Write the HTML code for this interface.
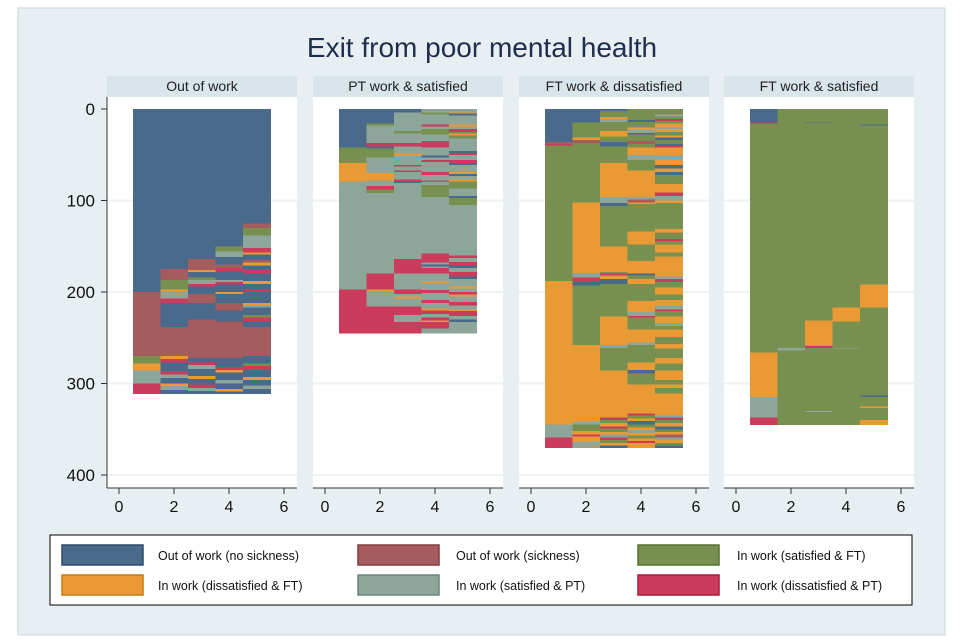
<!DOCTYPE html>
<html><head><meta charset="utf-8"><style>
body{margin:0;background:#fff;font-family:"Liberation Sans",sans-serif}
svg{display:block}
</style></head><body>
<svg id="chart" width="960" height="640">
<rect x="18" y="8" width="927" height="627" fill="#e8eff2" stroke="#c9d3d8"/>
<text x="482" y="57" text-anchor="middle" font-size="28" fill="#1f2d4e">Exit from poor mental health</text>
<g id="panels" shape-rendering="crispEdges"></g>
<g id="legend"></g>
</svg>
<script>
const panelTitles = ["Out of work","PT work & satisfied","FT work & dissatisfied","FT work & satisfied"];
const stateColors = ["#4a6a8b","#a45c5f","#78904f","#e99a35","#8ca69a","#cc3a5c"];
const stateBorders = ["#2e4a6b","#843c3f","#587030","#c97a15","#6c867a","#ac1a3c"];
const stateLabels = ["Out of work (no sickness)","Out of work (sickness)","In work (satisfied & FT)","In work (dissatisfied & FT)","In work (satisfied & PT)","In work (dissatisfied & PT)"];
const yTicks = [0,100,200,300,400];
const xTicks = [0,2,4,6];
// runs: [state(1-6), count] per time column 1..5
const panel1Runs = [
 [[1,200],[2,70],[3,8],[4,8],[5,14],[6,11]],
 [[1,175],[2,12],[3,10],[4,2],[5,8],[6,5],[1,26],[2,32],[4,3],[6,4],[1,10],[6,3],[5,4],[1,6],[4,3],[5,4],[1,4]],
 [[1,164],[2,12],[4,2],[1,6],[3,3],[5,4],[6,3],[1,8],[2,10],[1,18],[2,42],[1,5],[6,3],[5,4],[1,8],[4,3],[1,6],[6,4],[5,3],[1,3]],
 [[1,150],[3,6],[5,6],[1,8],[2,4],[6,3],[1,10],[5,2],[6,3],[1,8],[4,2],[1,10],[2,8],[1,12],[2,40],[1,10],[6,3],[4,3],[1,8],[5,4],[1,6],[4,3],[1,2]],
 [[1,125],[2,5],[3,8],[5,14],[6,5],[4,2],[1,6],[2,3],[4,3],[1,5],[6,4],[1,8],[4,3],[1,6],[6,3],[1,12],[4,2],[5,3],[1,8],[3,3],[6,4],[1,6],[2,32],[1,8],[3,3],[6,4],[1,8],[4,3],[1,6],[5,4],[1,5]]
];
const panel2Runs = [
 [[1,42],[3,17],[4,20],[5,118],[6,48]],
 [[1,16],[3,2],[5,19],[6,4],[1,2],[3,10],[5,17],[4,8],[5,6],[6,4],[3,4],[5,88],[6,17],[4,2],[5,17],[6,9],[5,0],[6,20]],
 [[1,4],[5,20],[3,3],[5,10],[6,4],[5,8],[4,2],[5,10],[6,2],[5,4],[6,2],[5,8],[6,2],[1,2],[5,83],[6,16],[5,17],[6,5],[5,3],[4,2],[5,9],[6,9],[5,8],[6,12]],
 [[5,4],[3,2],[5,11],[6,2],[5,3],[3,6],[5,7],[6,7],[5,9],[1,2],[5,3],[6,2],[5,11],[6,3],[5,6],[2,2],[5,3],[3,13],[5,62],[6,10],[5,2],[1,2],[5,2],[6,6],[5,8],[4,2],[5,8],[6,3],[5,8],[6,3],[5,6],[4,2],[6,4],[5,4],[6,3],[4,2],[6,7],[5,5]],
 [[5,4],[4,1],[1,2],[5,10],[4,2],[5,3],[6,3],[3,2],[4,2],[3,3],[5,14],[1,2],[6,2],[5,6],[6,3],[1,2],[5,8],[4,2],[1,2],[5,4],[4,2],[3,8],[5,8],[1,2],[3,8],[5,55],[6,3],[5,4],[6,4],[1,3],[5,4],[6,5],[1,3],[5,8],[4,2],[5,4],[6,3],[4,2],[5,6],[6,4],[5,4],[4,2],[6,5],[5,4],[1,3],[5,12]]
];
const panel3Runs = [
 [[1,36],[2,2],[6,2],[3,148],[4,157],[5,14],[6,11]],
 [[1,15],[3,16],[4,3],[2,3],[3,65],[4,77],[5,5],[6,5],[1,4],[3,65],[4,84],[5,3],[3,7],[4,4],[6,2],[4,6],[5,6]],
 [[1,2],[3,7],[4,2],[5,3],[3,10],[4,6],[3,6],[1,5],[3,18],[4,37],[5,7],[1,3],[3,44],[4,28],[3,2],[6,2],[4,4],[1,5],[3,36],[4,31],[5,3],[3,25],[4,51],[6,3],[3,3],[4,4],[6,2],[3,4],[4,3],[5,3],[6,3],[3,3],[4,3],[1,2]],
 [[3,12],[1,2],[3,6],[4,3],[5,3],[1,2],[3,7],[2,3],[3,4],[4,8],[5,6],[3,11],[4,29],[5,3],[2,3],[4,2],[3,30],[4,14],[3,18],[4,14],[1,2],[3,4],[4,5],[3,19],[4,12],[5,4],[6,2],[3,13],[4,14],[5,3],[3,19],[4,8],[1,4],[3,12],[4,32],[6,2],[3,3],[4,3],[1,4],[3,3],[4,3],[5,3],[4,3],[3,3],[4,3],[6,2],[4,5]],
 [[3,6],[5,2],[3,3],[6,2],[3,3],[4,4],[5,2],[4,3],[3,4],[4,2],[1,3],[3,4],[1,2],[6,2],[4,8],[5,5],[4,6],[1,4],[4,4],[1,3],[3,10],[4,9],[6,4],[5,5],[4,3],[3,28],[4,4],[3,7],[6,2],[3,4],[4,9],[3,4],[4,22],[5,3],[6,3],[3,6],[4,8],[3,6],[4,6],[5,4],[6,2],[3,6],[4,7],[5,3],[3,4],[4,8],[3,8],[4,5],[3,10],[4,6],[3,8],[4,10],[3,5],[4,4],[3,6],[4,24],[5,2],[6,3],[3,3],[4,4],[1,3],[3,3],[4,3],[2,3],[5,3],[4,3],[3,3],[1,2]]
];
const panel4Runs = [
 [[1,15],[6,1],[3,250],[4,49],[5,22],[6,8]],
 [[3,261],[5,3],[3,81]],
 [[3,14],[1,1],[3,216],[4,27],[5,1],[6,2],[3,69],[5,1],[3,14]],
 [[3,217],[4,15],[3,29],[5,1],[3,83]],
 [[3,17],[1,1],[3,174],[4,25],[3,96],[1,2],[3,10],[4,2],[3,13],[4,5]]
];
const allRuns = [panel1Runs,panel2Runs,panel3Runs,panel4Runs];

const NS = "http://www.w3.org/2000/svg";
const panelLefts = [107,313,519,724];
const panelW = 190, plotTop = 97, plotBottom = 488;
function yScale(v){ return 109 + v*0.915; }
function xScale(p,v){ return panelLefts[p] + 12 + v*27.5; }
function mk(tag, attrs, parent){ const e=document.createElementNS(NS,tag); for(const k in attrs) e.setAttribute(k,attrs[k]); parent.appendChild(e); return e; }
const panelsG = document.getElementById('panels');
allRuns.forEach((runs,p)=>{
  const g = mk('g',{},panelsG);
  
  
  const L = panelLefts[p];
  const bg = mk('rect',{x:L,y:plotTop,width:panelW,height:plotBottom-plotTop,fill:'#fff'},g);
  
  
  const hd = mk('rect',{x:L,y:76,width:panelW,height:21,fill:'#d9e5ea'},g);
  
  
  const ht = mk('text',{x:L+panelW/2,y:91,'text-anchor':'middle','font-size':14,fill:'#222'},g);
  ht.textContent = panelTitles[p];
  
  
  yTicks.forEach(t=>{ if(t>0){ const gl=mk('line',{x1:L,x2:L+panelW,y1:yScale(t),y2:yScale(t),stroke:'#edf2f4','stroke-width':2},g);
    
     }});
  runs.forEach((col,c)=>{
    let start=0;
    col.forEach(r=>{
      const y0=yScale(start), y1=yScale(start+r[1]);
      if(r[1]>0){
        const rc = mk('rect',{x:xScale(p,c+0.5),y:y0,width:xScale(p,c+1.5)-xScale(p,c+0.5)+0.5,height:y1-y0+0.3,fill:stateColors[r[0]-1]},g);
        
        
      }
      start+=r[1];
    });
  });
  const xa = mk('line',{x1:L,x2:L+panelW,y1:plotBottom,y2:plotBottom,stroke:'#333','stroke-width':1.2},g);
  
  
  xTicks.forEach(t=>{
    const x=xScale(p,t);
    const tk=mk('line',{x1:x,x2:x,y1:plotBottom,y2:plotBottom+6,stroke:'#333'},g);
    
    
    const tl=mk('text',{x:x,y:512,'text-anchor':'middle','font-size':16,fill:'#111'},g);
    tl.textContent=t;
    
    
  });
});
const ya = mk('line',{x1:107,x2:107,y1:plotTop,y2:plotBottom,stroke:'#333','stroke-width':1.2},panelsG);


yTicks.forEach(t=>{
  const y=yScale(t);
  const tk=mk('line',{x1:101,x2:107,y1:y,y2:y,stroke:'#333'},panelsG);
  
  
  const tl=mk('text',{x:95,y:y+6,'text-anchor':'end','font-size':17,fill:'#111'},panelsG);
  tl.textContent=t;
  
  
});
const lg=document.getElementById('legend');
const box=mk('rect',{x:50,y:535,width:862,height:70,fill:'#fff',stroke:'#000','stroke-width':1},lg);


const swX=[62,358,638], txX=[158,456,737], rowY=[545,575];
stateLabels.forEach((lab,i)=>{
  const col=i%3,row=Math.floor(i/3);
  const sw=mk('rect',{x:swX[col],y:rowY[row],width:81,height:20,fill:stateColors[i],stroke:stateBorders[i],'stroke-width':1.5},lg);
  
  
  const t=mk('text',{x:txX[col],y:rowY[row]+15,'font-size':12.5,fill:'#111'},lg);
  t.textContent=lab;
  
  
});
</script>
</body></html>
